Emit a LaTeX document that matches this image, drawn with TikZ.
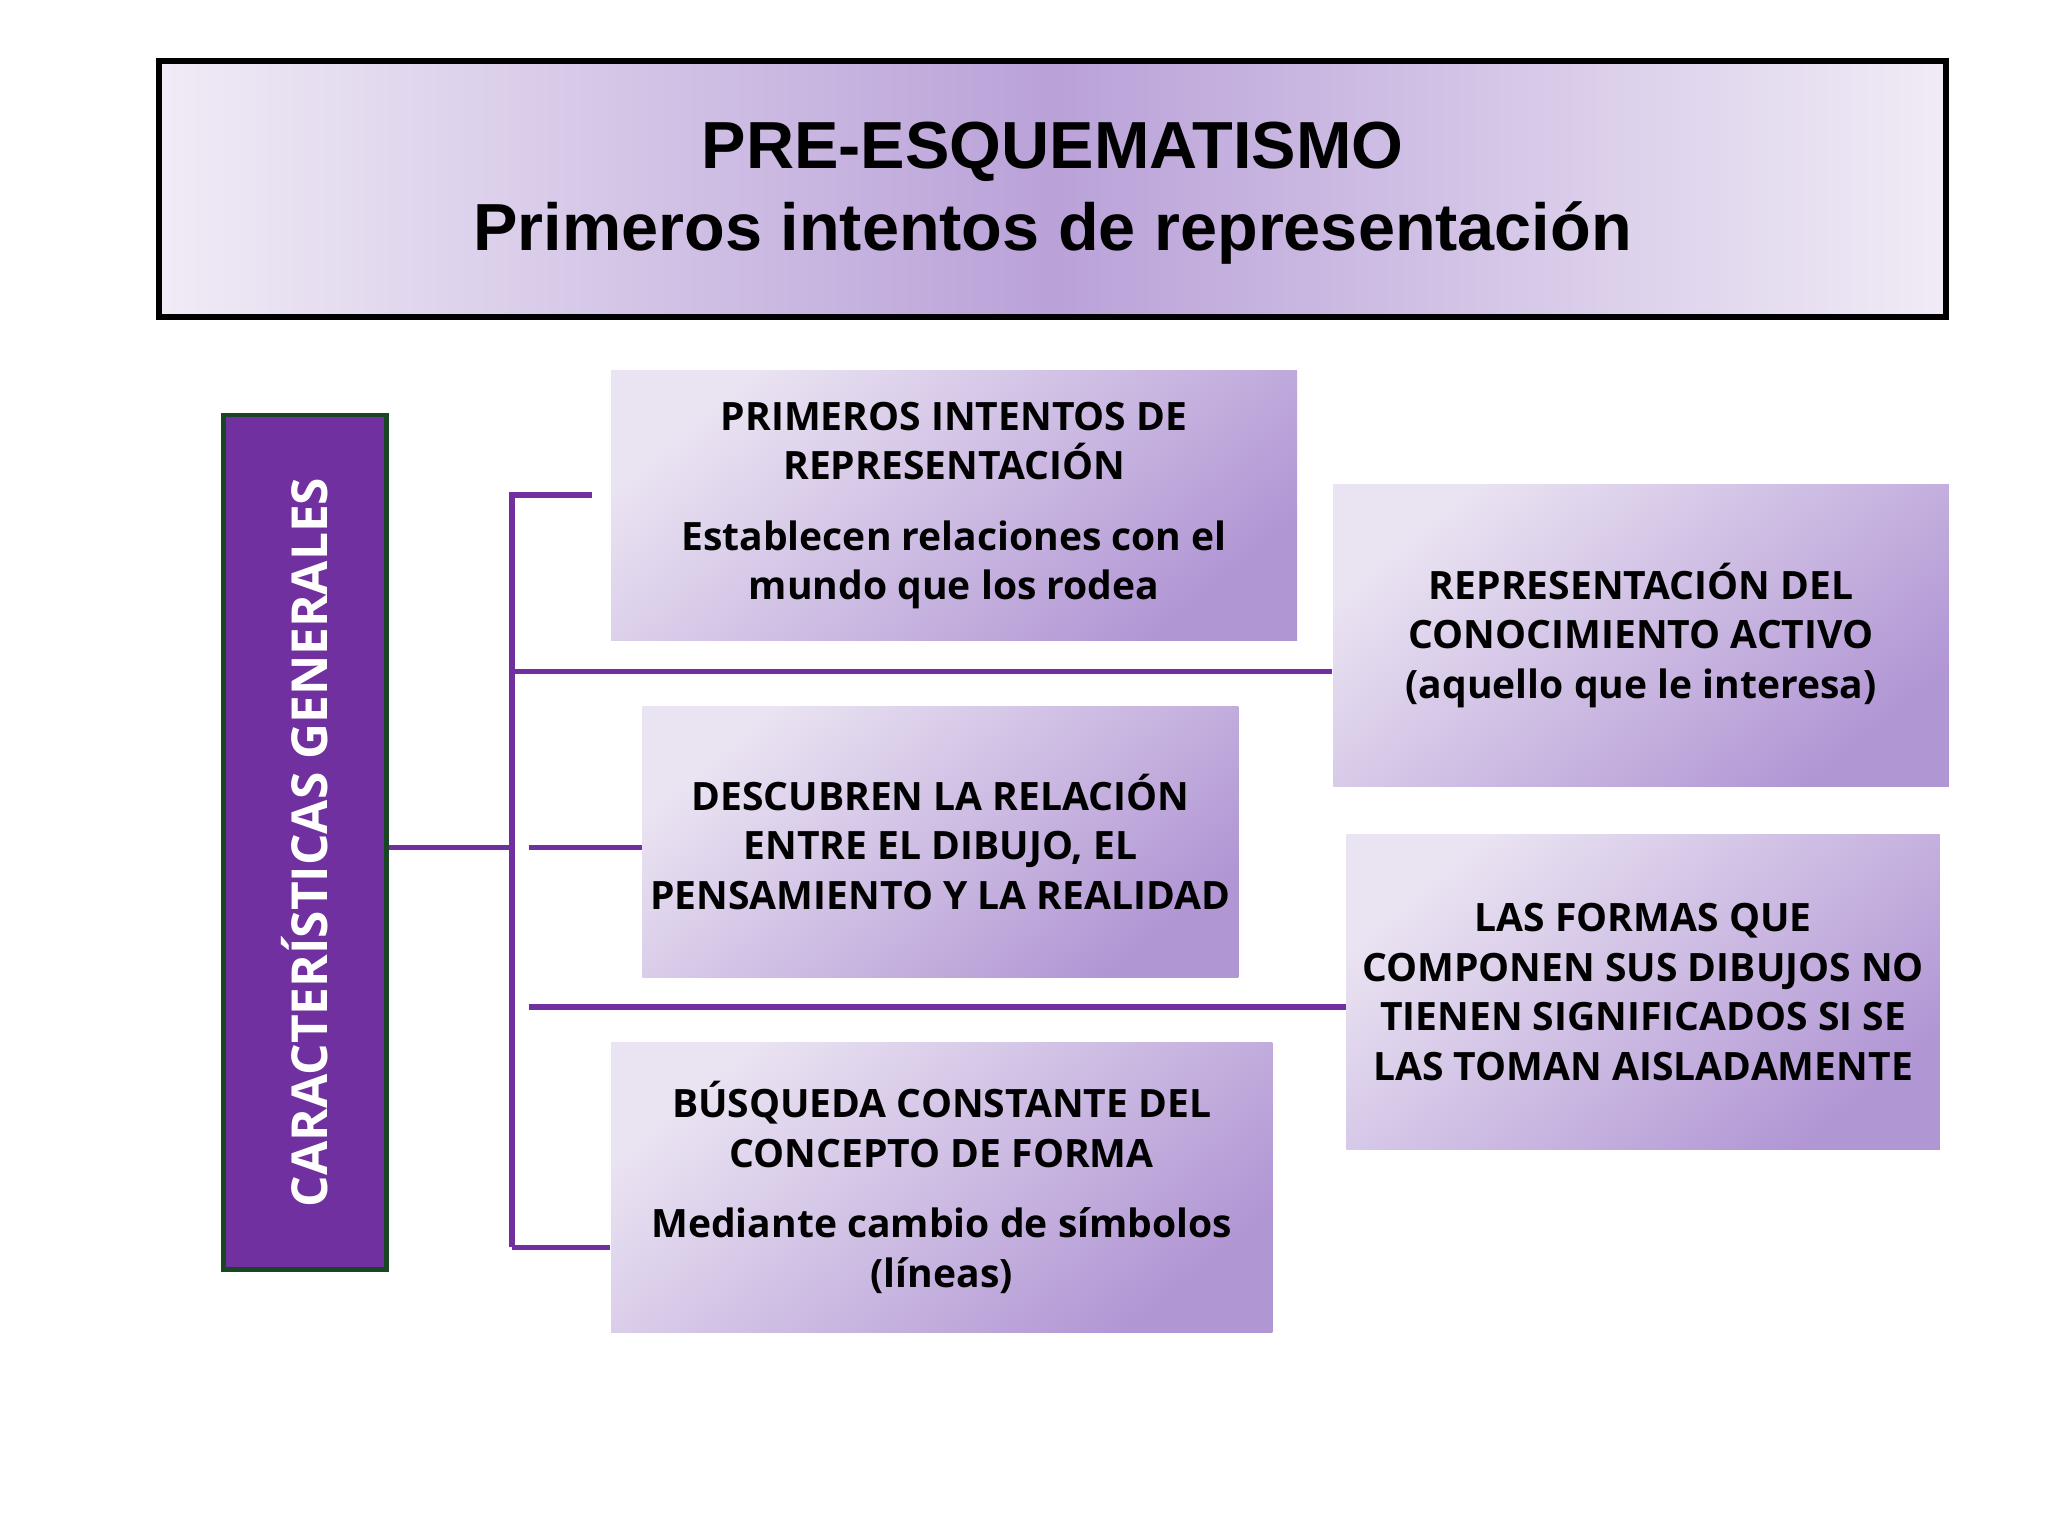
\documentclass[tikz,border=0pt]{standalone}
\usepackage{fontspec}
\setmainfont{Open Sans}
\newfontfamily\titlefont{Liberation Sans}
\begin{document}
\begin{tikzpicture}[x=0.01cm,y=-0.01cm]
\definecolor{purp}{HTML}{7030A0}
\definecolor{lite}{HTML}{EAE3F2}
\definecolor{dark}{HTML}{B196D4}
\tikzset{
  cbox/.style={rectangle, inner sep=0pt, align=center, text=black,
    top color=lite, bottom color=dark, shading angle=40,
    font=\fontsize{8.5}{10.8}\selectfont\bfseries},
  conn/.style={draw=purp, line width=1.2pt}
}
\useasboundingbox (0,0) rectangle (1568,1176);
\fill[white] (0,0) rectangle (1568,1176);
% title
\shade[left color=lite!70!white, right color=lite!70!white, middle color=dark!85!lite] (122,47) rectangle (1490,243);
\draw[line width=1.3pt] (122,47) rectangle (1490,243);
\node[font=\titlefont\bfseries\fontsize{14.5}{18}\selectfont, align=center] (title) at (806,148)
  {PRE-ESQUEMATISMO\\Primeros intentos de representación};
% left box
\node[rectangle, fill=purp, draw={rgb,255:red,25;green,70;blue,35}, line width=1pt,
  minimum width=1.25cm, minimum height=6.54cm, inner sep=0pt] (left) at (233.5,645) {};
\node[rotate=90, text=white, font=\fontsize{10.8}{13}\selectfont\bfseries] (lt) at (233.5,645) {CARACTERÍSTICAS GENERALES};
% boxes
\node[cbox, minimum width=5.25cm, minimum height=2.06cm] (b1) at (730.5,387)
  {PRIMEROS INTENTOS DE\\REPRESENTACIÓN\\[4.5pt]Establecen relaciones con el\\mundo que los rodea};
\node[cbox, minimum width=4.71cm, minimum height=2.31cm] (b2) at (1256.5,486.5)
  {REPRESENTACIÓN DEL\\CONOCIMIENTO ACTIVO\\(aquello que le interesa)};
\node[cbox, minimum width=4.56cm, minimum height=2.07cm] (b3) at (720,644.5)
  {DESCUBREN LA RELACIÓN\\ENTRE EL DIBUJO, EL\\PENSAMIENTO Y LA REALIDAD};
\node[cbox, minimum width=4.54cm, minimum height=2.41cm] (b4) at (1258,759.5)
  {LAS FORMAS QUE\\COMPONEN SUS DIBUJOS NO\\TIENEN SIGNIFICADOS SI SE\\LAS TOMAN AISLADAMENTE};
\node[cbox, minimum width=5.06cm, minimum height=2.22cm] (b5) at (721,909)
  {BÚSQUEDA CONSTANTE DEL\\CONCEPTO DE FORMA\\[4.5pt]Mediante cambio de símbolos\\(líneas)};
% connectors
\coordinate (vt) at (392,379);
\coordinate (vb) at (392,955);
\coordinate (vm) at (390,649);
\draw[conn] (left.east |- vm) -- (vm);
\draw[conn] (vb) -- (vt) -- (453,379);
\draw[conn] (392,514) -- (b2.west |- 0,514);
\draw[conn] (405,649) -- (b3.west |- 0,649);
\draw[conn] (405,771) -- (b4.west |- 0,771);
\draw[conn] (vb) -- (b5.west |- vb);
\end{tikzpicture}
\end{document}
